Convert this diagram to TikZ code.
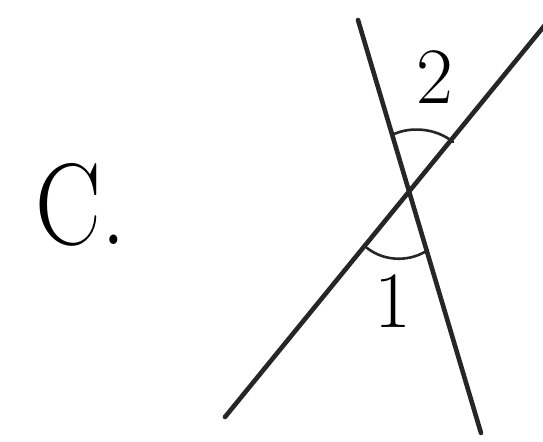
\documentclass[tikz,border=0pt]{standalone}

\begin{document}
\begin{tikzpicture}[x=0.5pt, y=-0.5pt,
		line cap=round, line join=round,
		retta/.style={line width=2.3pt, black!85},
		arco/.style={line width=1.3pt, black!85},
		lbl/.style={font=\fontsize{40}{40}\selectfont, inner sep=0pt}]

	\useasboundingbox (0,0) rectangle (543,442);

	% ---- rette che si intersecano ----
	\coordinate (A1) at (358,20);
	\coordinate (A2) at (481,433);
	\coordinate (B1) at (225,417);
	\coordinate (B2) at (545,25);
	\draw[retta] (A1) -- (A2);
	\draw[retta] (B1) -- (B2);

	% ---- archi degli angoli ----
	\coordinate (P2a) at (392,135);
	\coordinate (P2b) at (453,142);
	\coordinate (P1a) at (367,248);
	\coordinate (P1b) at (428,250);
	\draw[arco] (P2a) .. controls (410,126) and (436,128) .. (P2b);
	\draw[arco] (P1a) .. controls (385,262) and (410,262) .. (P1b);

	% ---- etichette ----
	\node[lbl] (n2) at (435,77) {2};
	\node[lbl] (n1) at (393,301) {1};
	\node[font=\fontsize{58}{58}\selectfont, inner sep=0pt, xscale=0.85,
		anchor=base west] (lett) at (35,245) {C.};

\end{tikzpicture}
\end{document}
